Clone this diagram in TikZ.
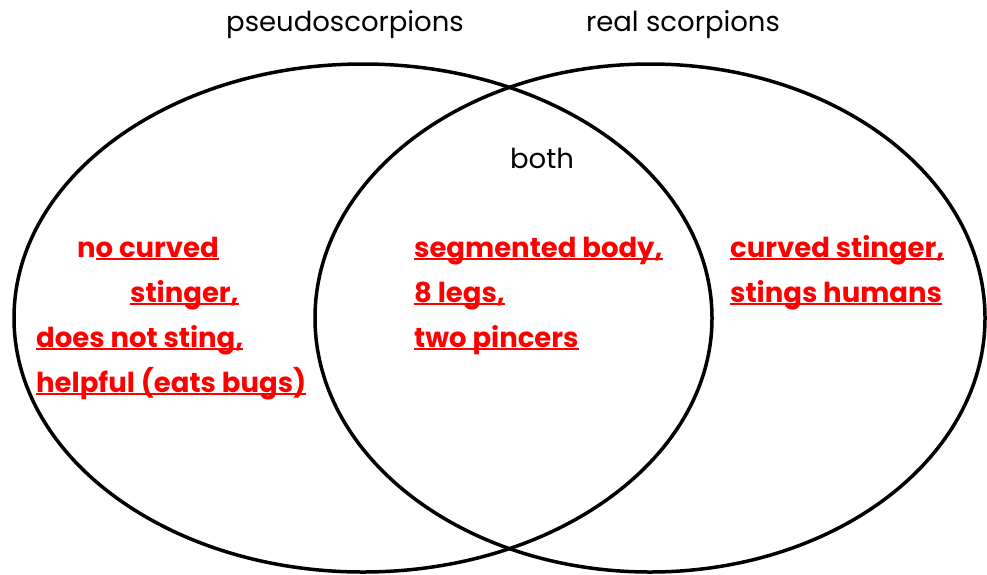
\documentclass[tikz,border=0pt]{standalone}
\usepackage{fontspec}
\setmainfont{Poppins}

% underline drawn as a rule under the text
\newcommand{\redline}[1]{\setbox0\hbox{#1}\rlap{\vrule height -1.3pt depth 3.3pt width \wd0}\box0}

\tikzset{
	ring/.style = {line width=3.5pt},
	title/.style = {font=\fontsize{27.5}{32}\selectfont, anchor=base, inner sep=0pt},
	fact/.style = {font=\fontsize{27.5}{32}\selectfont\bfseries, text=red, anchor=base west, inner sep=0pt}
}

\begin{document}
\begin{tikzpicture}[x=1pt,y=-1pt]
	\useasboundingbox (0,0) rectangle (987,574);

	% the two sets
	\draw[ring] (363,318) ellipse (349 and 254);
	\draw[ring] (650,318) ellipse (335 and 254);

	% set names
	\node[title] (pseudo) at (345,31) {pseudoscorpions};
	\node[title] (real) at (683,31) {real scorpions};
	\node[title] (both) at (542,168) {both};

	% pseudoscorpions only
	\node[fact] (noCurved) at (77,257) {n\redline{o curved}};
	\node[fact] (stingerL) at (130,302) {\redline{stinger,}};
	\node[fact] (noSting) at (36,347) {\redline{does not sting,}};
	\node[fact] (helpful) at (36,392) {\redline{helpful (eats bugs)}};

	% both
	\node[fact] (segmented) at (414,257) {\redline{segmented body,}};
	\node[fact] (legs) at (414,302) {\redline{8 legs,}};
	\node[fact] (pincers) at (414,347) {\redline{two pincers}};

	% real scorpions only
	\node[fact] (curved) at (730,257) {\redline{curved stinger,}};
	\node[fact] (humans) at (730,302) {\redline{stings humans}};
\end{tikzpicture}
\end{document}
